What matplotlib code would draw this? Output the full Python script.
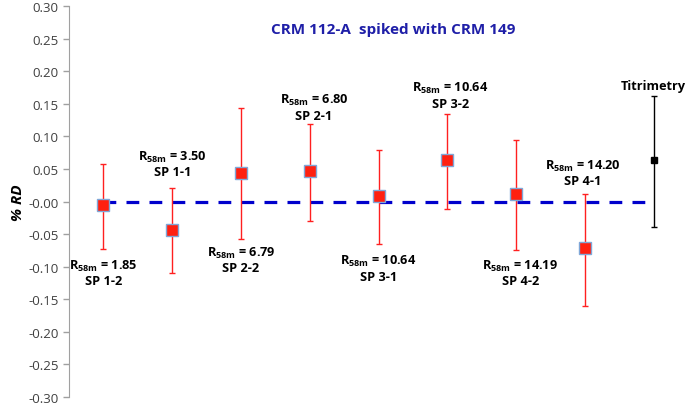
import matplotlib
matplotlib.use("Agg")
import matplotlib.pyplot as plt
import numpy as np

x = [1, 2, 3, 4, 5, 6, 7, 8]
rd = [-0.005, -0.043, 0.044, 0.047, 0.008, 0.063, 0.012, -0.072]
err_hi = [0.058, 0.021, 0.143, 0.119, 0.079, 0.135, 0.095, 0.012]
err_lo = [-0.073, -0.109, -0.058, -0.030, -0.065, -0.011, -0.075, -0.161]
labels = ["R$_{\\mathregular{58m}}$ = 1.85\nSP 1-2",
          "R$_{\\mathregular{58m}}$ = 3.50\nSP 1-1",
          "R$_{\\mathregular{58m}}$ = 6.79\nSP 2-2",
          "R$_{\\mathregular{58m}}$ = 6.80\nSP 2-1",
          "R$_{\\mathregular{58m}}$ = 10.64\nSP 3-1",
          "R$_{\\mathregular{58m}}$ = 10.64\nSP 3-2",
          "R$_{\\mathregular{58m}}$ = 14.19\nSP 4-2",
          "R$_{\\mathregular{58m}}$ = 14.20\nSP 4-1"]
label_y = [-0.086, 0.081, -0.066, 0.168, -0.079, 0.186, -0.086, 0.067]
label_dx = [0, 0, 0, 0.06, 0, 0.04, 0.06, -0.03]

tit_x = 9
tit_rd = 0.063
tit_hi = 0.162
tit_lo = -0.039

plt.rcParams['font.family'] = ['Open Sans', 'DejaVu Sans']
plt.rcParams['mathtext.fontset'] = 'custom'
plt.rcParams['mathtext.rm'] = 'Open Sans:bold'
plt.rcParams['mathtext.it'] = 'Open Sans:bold'
plt.rcParams['mathtext.bf'] = 'Open Sans:bold'

fig = plt.figure(figsize=(6.85, 4.06), dpi=100)
ax = fig.add_axes([69/685, 8/406, 616/685, 391/406])

ax.plot([1, 9], [0, 0], color='#0000CC', lw=2.3, ls=(0, (4, 3.2)), zorder=1)

yerr = [np.array(rd) - np.array(err_lo), np.array(err_hi) - np.array(rd)]
ax.errorbar(x, rd, yerr=yerr, fmt='none', ecolor='#FF2020', elinewidth=1.0,
            capsize=2.5, capthick=1.0, zorder=2)
ax.plot(x, rd, 's', color='#FF2010', markersize=8, markeredgecolor='#7FA7D8',
        markeredgewidth=1.0, zorder=3, ls='none')

ax.errorbar([tit_x], [tit_rd], yerr=[[tit_rd - tit_lo], [tit_hi - tit_rd]],
            fmt='s', color='black', markersize=4.5, elinewidth=1.0,
            capsize=2, capthick=1.0, zorder=3)

for xi, ly, lab, dx in zip(x, label_y, labels, label_dx):
    ax.text(xi + dx, ly, lab, ha='center', va='top', fontsize=9.2,
            fontweight='bold', linespacing=1.15)
ax.text(tit_x, 0.178, "Titrimetry", ha='center', va='center', fontsize=9.2,
        fontweight='bold')

ax.text(0.526, 0.94, "CRM 112-A  spiked with CRM 149", transform=ax.transAxes,
        ha='center', va='center', fontsize=11, fontweight='bold', color='#1F1FA8')

ax.set_xlim(0.5, 0.5 + 616/68.8)
ax.set_ylim(-0.30, 0.30)
ax.set_yticks(np.arange(-0.30, 0.301, 0.05))
ax.set_yticklabels([f"{v:.2f}" for v in np.arange(-0.30, 0.301, 0.05)])
ax.tick_params(axis='y', colors='#A0A0A0', labelcolor='#404040', labelsize=9.5,
               length=4, width=1)
ax.set_xticks([])
for s in ['top', 'right', 'bottom']:
    ax.spines[s].set_visible(False)
ax.spines['left'].set_color('#A0A0A0')
ax.set_ylabel("% RD", fontsize=11, fontweight='bold', fontstyle='italic',
              labelpad=2)

fig.savefig("out.png", dpi=100)
